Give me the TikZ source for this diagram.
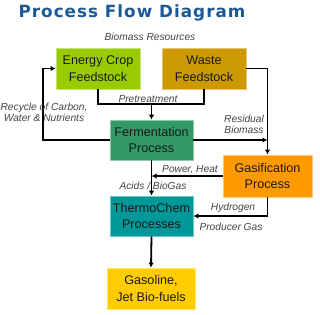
\documentclass[tikz,border=0pt]{standalone}
\usepackage{fontspec}
\setmainfont{Liberation Sans}
\newfontfamily\titlefont[LetterSpace=6]{DejaVu Sans Bold}
\usetikzlibrary{arrows.meta}
\definecolor{titleblue}{HTML}{1B5A97}
\definecolor{cgreen}{HTML}{99CC00}
\definecolor{cgold}{HTML}{CC9900}
\definecolor{cferm}{HTML}{339966}
\definecolor{corange}{HTML}{FF9900}
\definecolor{cteal}{HTML}{009999}
\definecolor{cyellow}{HTML}{FFCC00}
\definecolor{lblgray}{HTML}{444444}
\tikzset{
  procbox/.style={inner sep=0pt, align=center, text=black!90, line width=0.8pt,
    font=\fontsize{12.6}{16.8}\selectfont},
  lbl/.style={inner sep=0pt, align=center, text=lblgray,
    font=\fontsize{10.2}{11.5}\selectfont\itshape},
  flow/.style={draw=black, line width=1.8pt},
  arr/.style={flow, -{Latex[length=5pt,width=5.5pt]}},
}
\begin{document}
\begin{tikzpicture}[x=1pt,y=-1pt]
\useasboundingbox (0,0) rectangle (320,314);
\fill[white] (0,0) rectangle (320,314);
\node[inner sep=0pt, text=titleblue, font=\fontsize{16.8}{18}\titlefont] (title) at (132,13) {Process Flow Diagram};
\node[lbl] (bior) at (150,37) {Biomass Resources};

\node[procbox, fill=cgreen, draw=cgreen!55!white, minimum width=84pt, minimum height=41pt] (ec) at (98,68.5) {Energy Crop\\Feedstock};
\node[procbox, fill=cgold, draw=cgold!55!white, minimum width=84pt, minimum height=41pt] (ws) at (204,68.5) {Waste\\Feedstock};
\node[procbox, fill=cferm, draw=cferm!55!white, minimum width=83pt, minimum height=40pt] (fe) at (151.5,140) {Fermentation\\Process};
\node[procbox, fill=corange, draw=corange!55!white, minimum width=89pt, minimum height=42pt] (ga) at (267.5,176) {Gasification\\Process};
\node[procbox, fill=cteal, draw=cteal!55!white, minimum width=83pt, minimum height=40pt] (th) at (151.5,216) {ThermoChem\\Processes};
\node[procbox, fill=cyellow, draw=cyellow!55!white, minimum width=88pt, minimum height=41pt] (go) at (151,288.5) {Gasoline,\\Jet Bio-fuels};

\coordinate (pj) at (151.5,104);
\draw[flow] (ec.south) |- (pj) -| (ws.south);
\draw[arr] (pj) -- (fe.north);
\draw[arr] (ws.east) -| (ga.north);
\draw[arr] (fe.east) -- (fe.east -| ga.north);
\coordinate (rc) at (43,140);
\draw[arr] (fe.west) -- (rc) |- (ec.west);
\draw[arr] (fe.south) -- (th.north);
\draw[arr] (ga.west) -- (ga.west -| fe.south);
\draw[arr] (ga.south) |- (th.east);
\draw[arr] (th.south) -- (go.north);

\node[lbl] (pre) at (148,99) {Pretreatment};
\node[lbl] (res) at (244,124.5) {Residual\\Biomass};
\node[lbl] (rec) at (44,112.5) {Recycle of Carbon,\\Water \& Nutrients};
\node[lbl] (pow) at (190,170) {Power, Heat};
\node[lbl] (aci) at (153,186) {Acids / BioGas};
\node[lbl] (hyd) at (233,208) {Hydrogen};
\node[lbl] (prg) at (231,227) {Producer Gas};
\end{tikzpicture}
\end{document}
